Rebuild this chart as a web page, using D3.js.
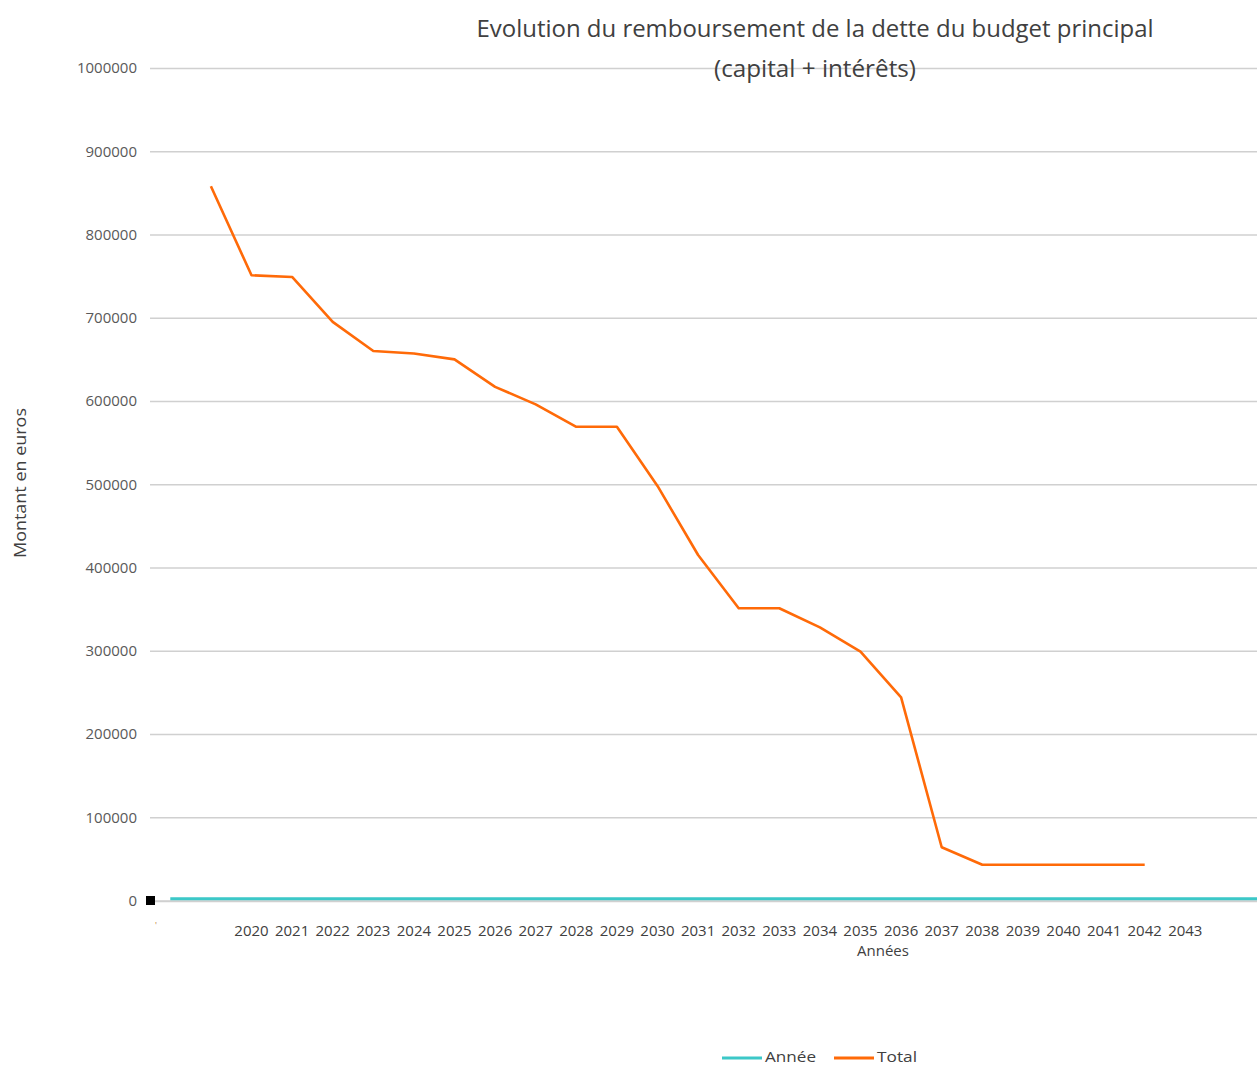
<!DOCTYPE html>
<html>
<head>
<meta charset="utf-8">
<script src="https://cdn.jsdelivr.net/npm/d3@7"></script>
<style>
  html, body { margin: 0; padding: 0; background: #fff; }
  svg { display: block; }
  text { font-family: "Open Sans", "DejaVu Sans", sans-serif; }
</style>
</head>
<body>
<script>
// ---- data ----
const categories = ["", "", "2020", "2021", "2022", "2023", "2024", "2025", "2026", "2027",
  "2028", "2029", "2030", "2031", "2032", "2033", "2034", "2035", "2036", "2037",
  "2038", "2039", "2040", "2041", "2042", "2043", "", ""];
const anneeValues = [2018, 2019, 2020, 2021, 2022, 2023, 2024, 2025, 2026, 2027,
  2028, 2029, 2030, 2031, 2032, 2033, 2034, 2035, 2036, 2037,
  2038, 2039, 2040, 2041, 2042, 2043, 2044, 2045];
const totalValues = [null, 858000, 751000, 749000, 695000, 660000, 657000, 650000, 617000, 596000,
  569000, 569000, 498000, 415000, 351000, 351000, 328000, 299000, 244000, 64000,
  43000, 43000, 43000, 43000, 43000, null, null, null];
const yTicks = [0, 100000, 200000, 300000, 400000, 500000, 600000, 700000, 800000, 900000, 1000000];
const seriesNames = ["Année", "Total"];
const seriesColors = ["#3cc8c8", "#ff6a08"];
const legendTextWidths = [51, 40];

const W = 1257, H = 1066;
const plotLeft = 150, plotRight = 1257, plotTop = 68, plotBottom = 900.5;
const step = 40.6;

const svg = d3.select("body").append("svg").attr("width", W).attr("height", H);

const x = d3.scaleBand()
  .domain(categories.map((d, i) => i))
  .range([plotLeft, plotLeft + step * categories.length])
  .padding(0);
const xc = i => x(i) + x.bandwidth() / 2;

const y = d3.scaleLinear().domain([0, 1000000]).range([plotBottom, plotTop]);

// gridlines
const yAxis = d3.axisLeft(y).tickValues(yTicks).tickSize(-(plotRight - plotLeft)).tickPadding(14)
  .tickFormat(d3.format("d"));
const gy = svg.append("g").attr("transform", `translate(${plotLeft},0)`).call(yAxis);
gy.select(".domain").remove();
gy.selectAll(".tick line").attr("stroke", "#d0d0d0").attr("stroke-width", 1.3);
gy.selectAll(".tick text").attr("fill", "#595959").style("font-size", "15px").attr("x", -13);

// clip
svg.append("defs").append("clipPath").attr("id", "plotclip")
  .append("rect").attr("x", plotLeft).attr("y", 0).attr("width", plotRight - plotLeft).attr("height", H);

// x axis labels
const xAxis = d3.axisBottom(x).tickSize(0).tickPadding(25).tickFormat(i => categories[i]);
const gx = svg.append("g").attr("transform", `translate(0,${plotBottom})`).call(xAxis);
gx.select(".domain").remove();
gx.selectAll(".tick text").attr("fill", "#404040").style("font-size", "15px");

// baseline axis line
svg.append("line").attr("x1", plotLeft).attr("x2", plotRight).attr("y1", plotBottom + 1).attr("y2", plotBottom + 1)
  .attr("stroke", "#d0d0d0").attr("stroke-width", 1.5);

// small marks at the origin
svg.append("rect").attr("x", 146).attr("y", 896).attr("width", 9).attr("height", 9).attr("fill", "#000");
svg.append("text").attr("x", 156).attr("y", 929).attr("text-anchor", "middle")
  .attr("fill", "#c08040").style("font-size", "9px").text("'");

// lines
const plot = svg.append("g").attr("clip-path", "url(#plotclip)");
const line = d3.line().defined(d => d.v != null).x(d => xc(d.i)).y(d => y(d.v));
plot.append("path")
  .datum(anneeValues.map((v, i) => ({ i, v })))
  .attr("d", line).attr("fill", "none").attr("stroke", seriesColors[0]).attr("stroke-width", 3);
plot.append("path")
  .datum(totalValues.map((v, i) => ({ i, v })))
  .attr("d", line).attr("fill", "none").attr("stroke", seriesColors[1]).attr("stroke-width", 2.6)
  .attr("stroke-linejoin", "round");

// title
const title = svg.append("g").attr("fill", "#404040");
title.append("text").attr("x", 815).attr("y", 37).attr("text-anchor", "middle")
  .style("font-size", "24px").attr("textLength", 677).attr("lengthAdjust", "spacingAndGlyphs")
  .text("Evolution du remboursement de la dette du budget principal");
title.append("text").attr("x", 815).attr("y", 77).attr("text-anchor", "middle")
  .style("font-size", "24px").attr("textLength", 202).attr("lengthAdjust", "spacingAndGlyphs")
  .text("(capital + intérêts)");

// axis titles
svg.append("text").attr("transform", "translate(26,483) rotate(-90)").attr("text-anchor", "middle")
  .attr("fill", "#404040").style("font-size", "17px").attr("textLength", 150).attr("lengthAdjust", "spacingAndGlyphs")
  .text("Montant en euros");
svg.append("text").attr("x", 883).attr("y", 956).attr("text-anchor", "middle")
  .attr("fill", "#404040").style("font-size", "15px").text("Années");

// legend
const legendX = [722, 834];
const lg = svg.append("g");
seriesNames.forEach((n, k) => {
  lg.append("line").attr("x1", legendX[k]).attr("x2", legendX[k] + 40).attr("y1", 1058).attr("y2", 1058)
    .attr("stroke", seriesColors[k]).attr("stroke-width", 3);
  lg.append("text").attr("x", legendX[k] + 43).attr("y", 1062).attr("fill", "#404040")
    .style("font-size", "15px").attr("textLength", legendTextWidths[k]).attr("lengthAdjust", "spacingAndGlyphs")
    .text(n);
});
</script>
</body>
</html>
